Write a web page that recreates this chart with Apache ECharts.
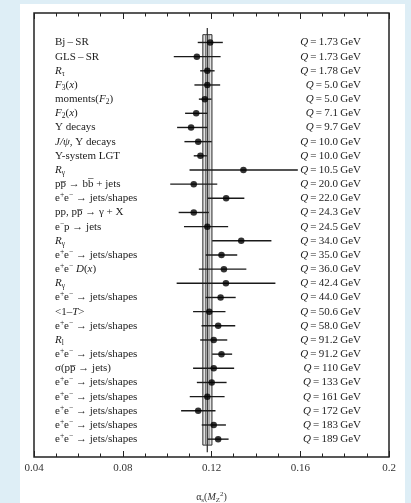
<!DOCTYPE html>
<html>
<head>
<meta charset="utf-8">
<script src="https://cdn.jsdelivr.net/npm/echarts@6/dist/echarts.min.js"></script>
<style>
  html, body { margin: 0; padding: 0; background: #deeef6; }
  #panel { position: absolute; left: 20px; top: 4px; width: 385px; height: 499px; background: #ffffff; }
  #chart { position: absolute; left: 0; top: 0; width: 411px; height: 503px; }
</style>
</head>
<body>
<div id="panel"></div>
<div id="chart"></div>
<script>
// Measurement processes (rich-text markup: i = italic, sub = subscript, sup = superscript)
const EE = 'e{sup|+}e{sup|\u2212} \u2192 jets/shapes';
const processes = [
  'Bj\u2009\u2013\u2009SR',
  'GLS\u2009\u2013\u2009SR',
  '{i|R}{sub|\u03c4}',
  '{i|F}{sub|3}({i|x})',
  'moments({i|F}{sub|2})',
  '{i|F}{sub|2}({i|x})',
  '\u03a5 decays',
  '{i|J/\u03c8}, \u03a5 decays',
  '\u03a5-system LGT',
  '{i|R}{sub|\u03b3}',
  'pp\u0305 \u2192 bb\u0305 + jets',
  EE,
  'pp, pp\u0305 \u2192 \u03b3 + X',
  'e{sup|\u2212}p \u2192 jets',
  '{i|R}{sub|\u03b3}',
  EE,
  'e{sup|+}e{sup|\u2212} {i|D}({i|x})',
  '{i|R}{sub|\u03b3}',
  EE,
  '<1\u2013{i|T}>',
  EE,
  '{i|R}{sub|l}',
  EE,
  '\u03c3(pp\u0305 \u2192 jets)',
  EE, EE, EE, EE, EE
];

// Energy scale Q of each measurement (GeV)
const qScales = ['1.73', '1.73', '1.78', '5.0', '5.0', '7.1', '9.7', '10.0', '10.0', '10.5',
  '20.0', '22.0', '24.3', '24.5', '34.0', '35.0', '36.0', '42.4', '44.0', '50.6',
  '58.0', '91.2', '91.2', '110', '133', '161', '172', '183', '189'];

// Central values of alpha_s(M_Z^2)
const alphaS = [0.1194, 0.1134, 0.1181, 0.1181, 0.1170, 0.1131, 0.1108, 0.1140, 0.1150, 0.1344,
  0.1120, 0.1266, 0.1120, 0.1181, 0.1334, 0.1245, 0.1256, 0.1265, 0.1241, 0.1190,
  0.1230, 0.1210, 0.1245, 0.1210, 0.1201, 0.1181, 0.1140, 0.1210, 0.1230];

// Lower and upper ends of the total uncertainty
const alphaLow = [0.1138, 0.1030, 0.1149, 0.1123, 0.1143, 0.1081, 0.1045, 0.1078, 0.1120, 0.1101,
  0.1014, 0.1183, 0.1052, 0.1076, 0.1203, 0.1174, 0.1143, 0.1043, 0.1173, 0.1117,
  0.1155, 0.1149, 0.1203, 0.1117, 0.1134, 0.1102, 0.1063, 0.1156, 0.1183];
const alphaHigh = [0.1251, 0.1241, 0.1214, 0.1239, 0.1200, 0.1181, 0.1181, 0.1201, 0.1179, 0.1589,
  0.1226, 0.1348, 0.1188, 0.1275, 0.1470, 0.1316, 0.1357, 0.1488, 0.1309, 0.1263,
  0.1307, 0.1271, 0.1293, 0.1302, 0.1268, 0.1259, 0.1218, 0.1265, 0.1277];

// World average and its bands
const worldAverage = 0.1181;
const outerBand = [0.1161, 0.1202];
const innerBand = [0.1173, 0.1189];

// Axis ticks
const xTicks = [0.04, 0.08, 0.12, 0.16, 0.2];

const SERIF = '"Liberation Serif", "DejaVu Serif", serif';
const INK = '#1c1c1c';
const n = processes.length;

const rich = {
  i: { fontStyle: 'italic', fontFamily: SERIF, fontSize: 11, fill: INK, lineHeight: 14 },
  sub: { fontFamily: SERIF, fontSize: 7.5, fill: INK, verticalAlign: 'bottom', lineHeight: 7 },
  sup: { fontFamily: SERIF, fontSize: 7.5, fill: INK, verticalAlign: 'top', lineHeight: 7 }
};

const chart = echarts.init(document.getElementById('chart'), null, { renderer: 'canvas' });

const xAxisCommon = {
  type: 'value',
  min: xTicks[0],
  max: xTicks[xTicks.length - 1],
  interval: xTicks[1] - xTicks[0],
  splitLine: { show: false },
  axisLine: { show: false, onZero: false },
  axisTick: { show: true, inside: true, length: 6, lineStyle: { color: '#222', width: 1 } },
  minorTick: { show: true, splitNumber: 4, length: 3.5, lineStyle: { color: '#222', width: 1 } },
  minorSplitLine: { show: false }
};

chart.setOption({
  animation: false,
  backgroundColor: 'transparent',
  grid: {
    left: 34, right: 22, top: 13, bottom: 46,
    outerBoundsMode: 'none', containLabel: false,
    show: true, borderColor: '#222', borderWidth: 1.5, backgroundColor: 'transparent'
  },
  xAxis: [
    Object.assign({}, xAxisCommon, {
      position: 'bottom',
      axisLabel: {
        show: true, margin: 6, color: '#333', fontFamily: SERIF, fontSize: 11,
        formatter: v => String(+v.toFixed(2))
      },
      name: '{a|\u03b1}{sub|s}({i|M}{sub|Z}{sup|2})',
      nameLocation: 'middle',
      nameGap: 34,
      nameTextStyle: {
        color: '#333', fontFamily: SERIF, fontSize: 10,
        rich: {
          a: { fontFamily: SERIF, fontSize: 10, color: '#333', lineHeight: 13 },
          i: { fontFamily: SERIF, fontSize: 10, fontStyle: 'italic', color: '#333', lineHeight: 13 },
          sub: { fontFamily: SERIF, fontSize: 7, color: '#333', verticalAlign: 'bottom', lineHeight: 6 },
          sup: { fontFamily: SERIF, fontSize: 7, color: '#333', verticalAlign: 'top', lineHeight: 6 }
        }
      }
    }),
    Object.assign({}, xAxisCommon, { position: 'top', axisLabel: { show: false } })
  ],
  yAxis: {
    type: 'value', inverse: true, min: -2.08, max: n - 1 + 1.26, show: false,
    axisLine: { onZero: false }
  },
  series: [
    {
      // world-average band with its central value
      type: 'custom',
      z: 1,
      data: [[worldAverage, outerBand[0], outerBand[1], innerBand[0], innerBand[1]]],
      renderItem: function (params, api) {
        const c = api.value(0), lo = api.value(1), hi = api.value(2), ilo = api.value(3), ihi = api.value(4);
        const top = api.coord([lo, -0.55])[1];
        const bot = api.coord([lo, n - 1 + 0.42])[1];
        const x0 = api.coord([lo, 0])[0], x1 = api.coord([hi, 0])[0];
        const xi0 = api.coord([ilo, 0])[0], xi1 = api.coord([ihi, 0])[0];
        const xc = api.coord([c, 0])[0];
        const lTop = api.coord([c, -1.02])[1], lBot = api.coord([c, n - 1 + 0.92])[1];
        return {
          type: 'group',
          children: [
            { type: 'rect', shape: { x: x0, y: top, width: x1 - x0, height: bot - top },
              style: { fill: '#e2e2e2', stroke: '#2a2a2a', lineWidth: 1 } },
            { type: 'line', shape: { x1: xi0, y1: top, x2: xi0, y2: bot }, style: { stroke: '#7a7a7a', lineWidth: 1 } },
            { type: 'line', shape: { x1: xi1, y1: top, x2: xi1, y2: bot }, style: { stroke: '#7a7a7a', lineWidth: 1 } },
            { type: 'line', shape: { x1: xc, y1: lTop, x2: xc, y2: lBot }, style: { stroke: '#2a2a2a', lineWidth: 1.2 } }
          ]
        };
      }
    },
    {
      // horizontal uncertainty bars
      type: 'custom',
      z: 3,
      data: alphaS.map((v, i) => [i, alphaLow[i], alphaHigh[i]]),
      renderItem: function (params, api) {
        const row = api.value(0);
        const p0 = api.coord([api.value(1), row]);
        const p1 = api.coord([api.value(2), row]);
        return {
          type: 'line',
          shape: { x1: p0[0], y1: p0[1], x2: p1[0], y2: p1[1] },
          style: { stroke: '#1a1a1a', lineWidth: 1.4 }
        };
      }
    },
    {
      // central values
      type: 'scatter',
      z: 4,
      symbol: 'circle',
      symbolSize: 6.5,
      itemStyle: { color: '#000' },
      data: alphaS.map((v, i) => [v, i])
    },
    {
      // process names on the left, energy scales on the right
      type: 'custom',
      z: 5,
      data: processes.map((p, i) => [i]),
      renderItem: function (params, api) {
        const row = api.value(0);
        const idx = params.dataIndex;
        const y = api.coord([xTicks[0], row])[1];
        const xl = api.coord([xTicks[0], row])[0] + 21;
        const xr = api.coord([xTicks[xTicks.length - 1], row])[0] - 28;
        const base = { fontFamily: SERIF, fontSize: 11, fill: INK, verticalAlign: 'middle', lineHeight: 14, rich: rich };
        return {
          type: 'group',
          children: [
            { type: 'text', x: xl, y: y, style: Object.assign({}, base, { text: processes[idx], align: 'left' }) },
            { type: 'text', x: xr, y: y, style: Object.assign({}, base, {
                text: '{i|Q}\u2009=\u2009' + qScales[idx] + '\u2009GeV', align: 'right' }) }
          ]
        };
      }
    }
  ]
});
</script>
</body>
</html>
